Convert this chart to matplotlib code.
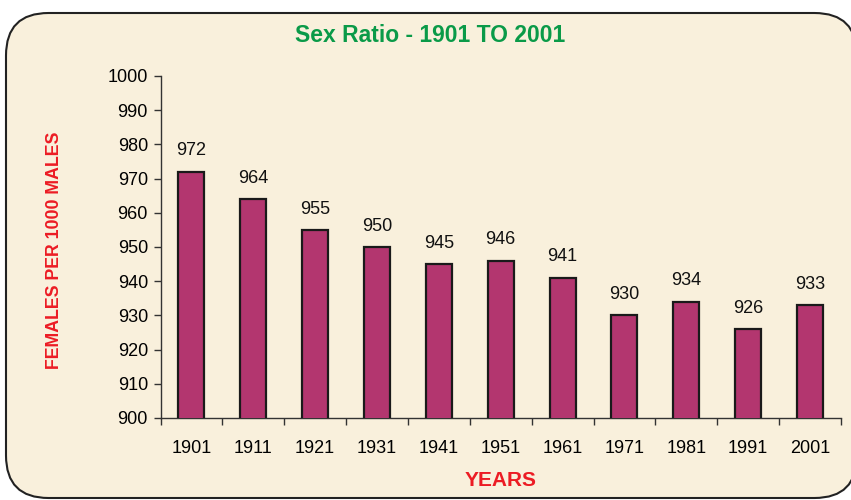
"""Sex ratio bar chart, 1901 to 2001."""

import matplotlib
matplotlib.use("Agg")
import matplotlib.pyplot as plt
from matplotlib.patches import FancyBboxPatch
import numpy as np

years = ["1901", "1911", "1921", "1931", "1941", "1951", "1961", "1971", "1981", "1991", "2001"]
sex_ratio = [972, 964, 955, 950, 945, 946, 941, 930, 934, 926, 933]
y_ticks = list(range(900, 1001, 10))

W, H = 851, 500
fig = plt.figure(figsize=(W / 100, H / 100), dpi=100)
fig.patch.set_facecolor("white")

# rounded cream panel, runs off the right edge
panel = FancyBboxPatch((6 / W, 2 / H), 1.0, 1 - 15 / H,
                       boxstyle="round,pad=0,rounding_size=0.05",
                       transform=fig.transFigure, facecolor="#f9f0dc",
                       edgecolor="#222222", linewidth=1.5, zorder=0,
                       mutation_aspect=W / H)
fig.patches.append(panel)

ax = fig.add_axes([160.5 / W, 1 - 418 / H, (841 - 160.5) / W, (418 - 76) / H])
ax.set_facecolor("none")
ax.set_zorder(2)

x = np.arange(len(years))
ax.bar(x, sex_ratio, width=0.42, bottom=0, color="#b3366f",
       edgecolor="#1a1a1a", linewidth=1.6, zorder=3)
for xi, v in zip(x, sex_ratio):
    ax.text(xi, v + 3.6, str(v), ha="center", va="bottom", fontsize=13,
            family="Liberation Sans", color="#111111")

ax.set_xlim(-0.5, len(years) - 0.5)
ax.set_ylim(900, 1000)
ax.set_yticks(y_ticks)
ax.set_yticklabels([str(t) for t in y_ticks], family="Liberation Sans", fontsize=13)
ax.set_xticks(x)
ax.set_xticklabels(years, family="Liberation Sans", fontsize=13)
ax.tick_params(axis="x", length=0, pad=16)
ax.set_xticks(np.arange(-0.5, len(years)), minor=True)
ax.tick_params(axis="x", which="minor", length=5, width=1, color="#333333")
ax.tick_params(axis="y", length=5, width=1, color="#333333", pad=4)

for side in ("top", "right"):
    ax.spines[side].set_visible(False)
for side in ("left", "bottom"):
    ax.spines[side].set_color("#333333")
    ax.spines[side].set_linewidth(1.0)

fig.text(430 / W, 1 - 36 / H, "Sex Ratio - 1901 TO 2001", ha="center", va="center",
         fontsize=16.5, fontweight="bold", color="#0a9a48", family="Liberation Sans")
fig.text(501 / W, 1 - 481 / H, "YEARS", ha="center", va="center",
         fontsize=15, fontweight="bold", color="#ec1c24", family="Liberation Sans")
fig.text(55 / W, 1 - 250 / H, "FEMALES PER 1000 MALES", ha="center", va="center",
         rotation=90, fontsize=12.8, fontweight="bold", color="#ec1c24",
         family="Liberation Sans")

fig.savefig("out.png", dpi=100)
plt.close(fig)
